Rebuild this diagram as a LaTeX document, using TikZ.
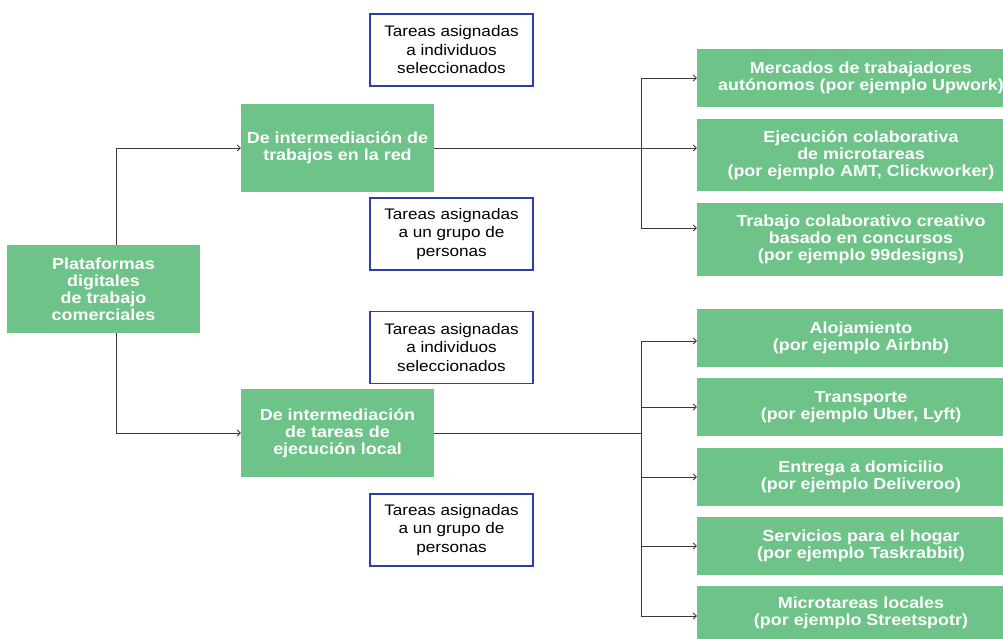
\documentclass[tikz,border=0pt]{standalone}
\usepackage{fontspec}
\setmainfont{Liberation Sans}[FakeStretch=1.12]
\usetikzlibrary{arrows.meta}
\definecolor{gboxc}{HTML}{6EC388}
\definecolor{bborder}{HTML}{2F3FA6}
\definecolor{linec}{HTML}{3A3A3A}
\tikzset{
  gbox/.style={fill=gboxc, draw=none, text=white, inner sep=0pt, align=center,
    font=\bfseries\fontsize{16}{17}\selectfont},
  rbox/.style={gbox, minimum width=328pt},
  bbox/.style={draw=bborder, line width=1.2pt, fill=white, text=black, inner sep=0pt, align=center,
    minimum width=163pt, minimum height=72pt, font=\fontsize{15.3}{18.5}\selectfont},
  conn/.style={draw=linec, line width=0.9pt},
  arr/.style={conn, -{Straight Barb[length=3pt,width=6pt]}},
}
\begin{document}
\begin{tikzpicture}[x=1pt,y=-1pt]
\useasboundingbox (0,0) rectangle (1003,639);
% root and mid boxes
\node[gbox, minimum width=193pt, minimum height=88pt] (root) at (103.5,289) {Plataformas\\digitales\\de trabajo\\comerciales};
\node[gbox, minimum width=193pt, minimum height=88pt] (mid1) at (337.5,148) {De intermediación de\\trabajos en la red};
\node[gbox, minimum width=193pt, minimum height=88pt] (mid2) at (337.5,433) {De intermediación\\de tareas de\\ejecución local};
% blue boxes
\node[bbox] (b1) at (451.5,50) {Tareas asignadas\\a individuos\\seleccionados};
\node[bbox] (b2) at (451.5,234) {Tareas asignadas\\a un grupo de\\personas};
\node[bbox] (b3) at (451.5,347.5) {Tareas asignadas\\a individuos\\seleccionados};
\node[bbox] (b4) at (451.5,530) {Tareas asignadas\\a un grupo de\\personas};
% right boxes (they run past the right edge of the picture)
\node[rbox, minimum height=58pt] (r1) at (861,78) {Mercados de trabajadores\\autónomos (por ejemplo Upwork)};
\node[rbox, minimum height=72pt] (r2) at (861,155) {Ejecución colaborativa\\de microtareas\\(por ejemplo AMT, Clickworker)};
\node[rbox, minimum height=73pt] (r3) at (861,239.5) {Trabajo colaborativo creativo\\basado en concursos\\(por ejemplo 99designs)};
\node[rbox, minimum height=58pt] (r4) at (861,338) {Alojamiento\\(por ejemplo Airbnb)};
\node[rbox, minimum height=58pt] (r5) at (861,407) {Transporte\\(por ejemplo Uber, Lyft)};
\node[rbox, minimum height=58pt] (r6) at (861,477) {Entrega a domicilio\\(por ejemplo Deliveroo)};
\node[rbox, minimum height=58pt] (r7) at (861,546) {Servicios para el hogar\\(por ejemplo Taskrabbit)};
\node[rbox, minimum height=53pt] (r8) at (861,612.5) {Microtareas locales\\(por ejemplo Streetspotr)};
% coordinates
\coordinate (trunk) at (116,289);
\coordinate (br1) at (641,148);
\coordinate (br2) at (641,433);
% left connectors
\draw[arr] (root.north -| trunk) |- (mid1.west);
\draw[arr] (root.south -| trunk) |- (mid2.west);
% top right connectors
\draw[arr] (mid1.east) -- (mid1.east -| r2.west);
\draw[arr] (br1) |- (r1.west);
\draw[arr] (br1) |- ([yshift=11.5pt]r3.west);
% bottom right connectors
\draw[conn] (mid2.east) -- (br2);
\draw[arr] (br2) |- ([yshift=-3pt]r4.west);
\draw[arr] (br2) |- (r5.west);
\draw[arr] (br2) |- (r6.west);
\draw[arr] (br2) |- (r7.west);
\draw[arr] (br2) |- ([yshift=-3.5pt]r8.west);
\end{tikzpicture}
\end{document}
